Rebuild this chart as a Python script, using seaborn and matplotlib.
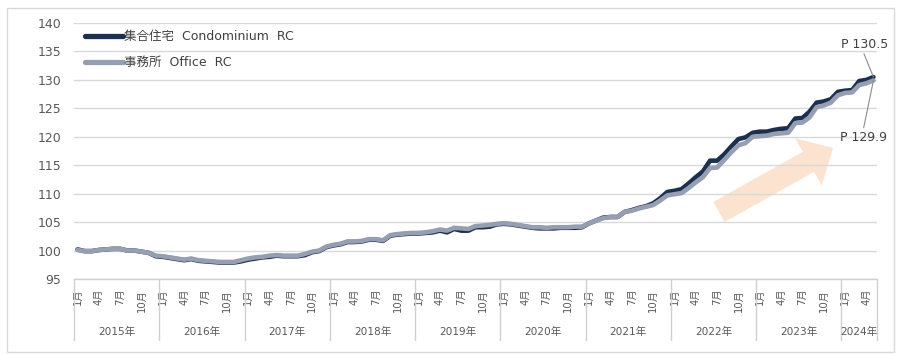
import numpy as np
import pandas as pd
import matplotlib
matplotlib.use("Agg")
import matplotlib.pyplot as plt
import seaborn as sns
from matplotlib.patches import Rectangle
import matplotlib.transforms as mtransforms

# ---- data (monthly index, Jan 2015 - May 2024) ----
years = [2015, 2016, 2017, 2018, 2019, 2020, 2021, 2022, 2023, 2024]
year_labels = [f"{y}年" for y in years]
months_per_year = [12, 12, 12, 12, 12, 12, 12, 12, 12, 5]
tick_months = [1, 4, 7, 10]

condo_name = "集合住宅  Condominium  RC"
office_name = "事務所  Office  RC"

condo = [
    100.2, 99.9, 99.9, 100.1, 100.2, 100.3, 100.3, 100.0, 100.0, 99.8, 99.6, 99.0,   # 2015
    98.9, 98.7, 98.5, 98.3, 98.5, 98.2, 98.1, 98.0, 97.9, 97.9, 97.9, 98.1,          # 2016
    98.4, 98.6, 98.8, 98.9, 99.1, 99.0, 99.0, 99.0, 99.2, 99.7, 99.9, 100.6,         # 2017
    100.9, 101.1, 101.5, 101.5, 101.6, 101.9, 101.9, 101.7, 102.6, 102.8, 102.9, 103.0,  # 2018
    103.0, 103.1, 103.2, 103.5, 103.2, 103.8, 103.5, 103.5, 104.1, 104.1, 104.2, 104.6,  # 2019
    104.7, 104.6, 104.4, 104.2, 104.0, 103.9, 103.9, 103.9, 104.0, 104.0, 104.0, 104.1,  # 2020
    104.8, 105.3, 105.8, 105.9, 105.9, 106.8, 107.1, 107.5, 107.8, 108.3, 109.2, 110.3,  # 2021
    110.5, 110.8, 111.8, 112.9, 113.9, 115.8, 115.8, 116.9, 118.3, 119.6, 119.9, 120.7,  # 2022
    120.9, 120.9, 121.2, 121.4, 121.5, 123.2, 123.3, 124.4, 126.0, 126.2, 126.6, 127.9,  # 2023
    128.1, 128.2, 129.8, 130.0, 130.5,                                                    # 2024
]
office = [
    100.1, 99.9, 99.9, 100.1, 100.2, 100.3, 100.3, 100.0, 100.0, 99.8, 99.6, 99.1,   # 2015
    99.0, 98.8, 98.6, 98.4, 98.6, 98.3, 98.2, 98.1, 98.0, 98.0, 98.0, 98.3,          # 2016
    98.6, 98.8, 98.9, 99.1, 99.2, 99.1, 99.1, 99.1, 99.4, 99.8, 100.0, 100.7,        # 2017
    101.0, 101.2, 101.6, 101.6, 101.7, 102.0, 102.0, 101.8, 102.7, 102.9, 103.0, 103.1,  # 2018
    103.1, 103.2, 103.4, 103.7, 103.5, 104.0, 103.9, 103.8, 104.3, 104.4, 104.5, 104.7,  # 2019
    104.8, 104.7, 104.5, 104.3, 104.1, 104.1, 104.0, 104.1, 104.1, 104.1, 104.2, 104.2,  # 2020
    104.8, 105.3, 105.7, 105.9, 105.9, 106.8, 107.0, 107.4, 107.7, 108.0, 108.8, 109.7,  # 2021
    109.9, 110.1, 111.0, 112.0, 112.9, 114.5, 114.6, 115.9, 117.3, 118.5, 118.9, 120.0,  # 2022
    120.1, 120.2, 120.5, 120.6, 120.7, 122.4, 122.5, 123.4, 125.2, 125.5, 126.0, 127.3,  # 2023
    127.7, 127.8, 129.1, 129.4, 129.9,                                                    # 2024
]

# ---- build table ----
month_of = []
for n in months_per_year:
    month_of += list(range(1, n + 1))
idx = np.arange(len(condo))
df = pd.concat([
    pd.DataFrame({"t": idx, "value": condo, "series": condo_name}),
    pd.DataFrame({"t": idx, "value": office, "series": office_name}),
])

sns.set_theme(style="white")
plt.rcParams["font.family"] = ["DejaVu Sans", "Noto Sans CJK JP"]

fig = plt.figure(figsize=(9, 3.54), dpi=100)
ax = fig.add_axes([74 / 900, (354 - 279) / 354, 803 / 900, 256 / 354])

c_condo = "#1b2f4e"
c_office = "#959fb1"
sns.lineplot(data=df, x="t", y="value", hue="series",
             hue_order=[condo_name, office_name],
             palette={condo_name: c_condo, office_name: c_office},
             lw=3.3, ax=ax, legend=True)

ax.set_xlim(-0.5, len(condo) - 0.5)
ax.set_ylim(95, 140)
ax.set_yticks(np.arange(95, 141, 5))
ax.yaxis.grid(True, color="#d9d9d9", lw=1)
ax.xaxis.grid(False)
for s in ["left", "right", "top"]:
    ax.spines[s].set_visible(False)
ax.spines["bottom"].set_color("#d0d0d0")
ax.spines["bottom"].set_linewidth(1)
ax.set_xlabel("")
ax.set_ylabel("")

ticks = [i for i in idx if month_of[i] in tick_months]
ax.set_xticks(ticks)
ax.set_xticklabels([f"{month_of[i]}月" for i in ticks], rotation=90,
                   fontsize=7.3, color="#595959", va="top")
ax.tick_params(axis="x", length=0, pad=7)
ax.tick_params(axis="y", length=0, pad=9, labelsize=9, labelcolor="#595959")

# year separators and labels
trans = mtransforms.blended_transform_factory(ax.transData, ax.transAxes)
bounds = np.concatenate([[0], np.cumsum(months_per_year)]) - 0.5
for b in bounds:
    ax.plot([b, b], [0, -61 / 256], transform=trans, color="#d0d0d0",
            lw=1, clip_on=False)
for k, lab in enumerate(year_labels):
    cx = (bounds[k] + bounds[k + 1]) / 2
    ax.text(cx, -53 / 256, lab, transform=trans, ha="center", va="center",
            fontsize=7.6, color="#595959")

# legend
handles, labels = ax.get_legend_handles_labels()
leg = ax.legend(handles, labels, loc="upper left",
                bbox_to_anchor=(11 / 803, 1 - 7 / 256), frameon=False,
                fontsize=9, handlelength=3.0, handletextpad=0.15,
                labelspacing=1.05, borderpad=0, borderaxespad=0)
for h in leg.legend_handles:
    h.set_linewidth(3.8)
for t in leg.get_texts():
    t.set_color("#404040")

# end-point annotations
last = len(condo) - 1
ax.annotate(f"P {condo[-1]:.1f}", xy=(last, condo[-1]), xycoords="data",
            xytext=(865, 354 - 44), textcoords="figure pixels",
            ha="center", va="center", fontsize=9, color="#404040",
            arrowprops=dict(arrowstyle="-", color="#8c8c8c", lw=0.8,
                            shrinkA=0, shrinkB=0, relpos=(0.45, 0)),
            annotation_clip=False)
ax.annotate(f"P {office[-1]:.1f}", xy=(last, office[-1]), xycoords="data",
            xytext=(863, 354 - 137.5), textcoords="figure pixels",
            ha="center", va="center", fontsize=9, color="#404040",
            arrowprops=dict(arrowstyle="-", color="#8c8c8c", lw=0.8,
                            shrinkA=0, shrinkB=0, relpos=(0.5, 1)),
            annotation_clip=False)

# trend arrow
ax.annotate("", xy=(833, 354 - 148), xycoords="figure pixels",
            xytext=(719, 354 - 212), textcoords="figure pixels",
            arrowprops=dict(arrowstyle="simple,head_width=2.6,head_length=1.35,tail_width=1.1",
                            mutation_scale=15, color="#fbe3cf", lw=0,
                            shrinkA=0, shrinkB=0),
            zorder=0)

# outer border
fig.patches.append(Rectangle((7 / 900, 2 / 354), 887 / 900, 344 / 354,
                             transform=fig.transFigure, fill=False,
                             edgecolor="#d9d9d9", lw=1))

fig.savefig("out.png", dpi=100)
